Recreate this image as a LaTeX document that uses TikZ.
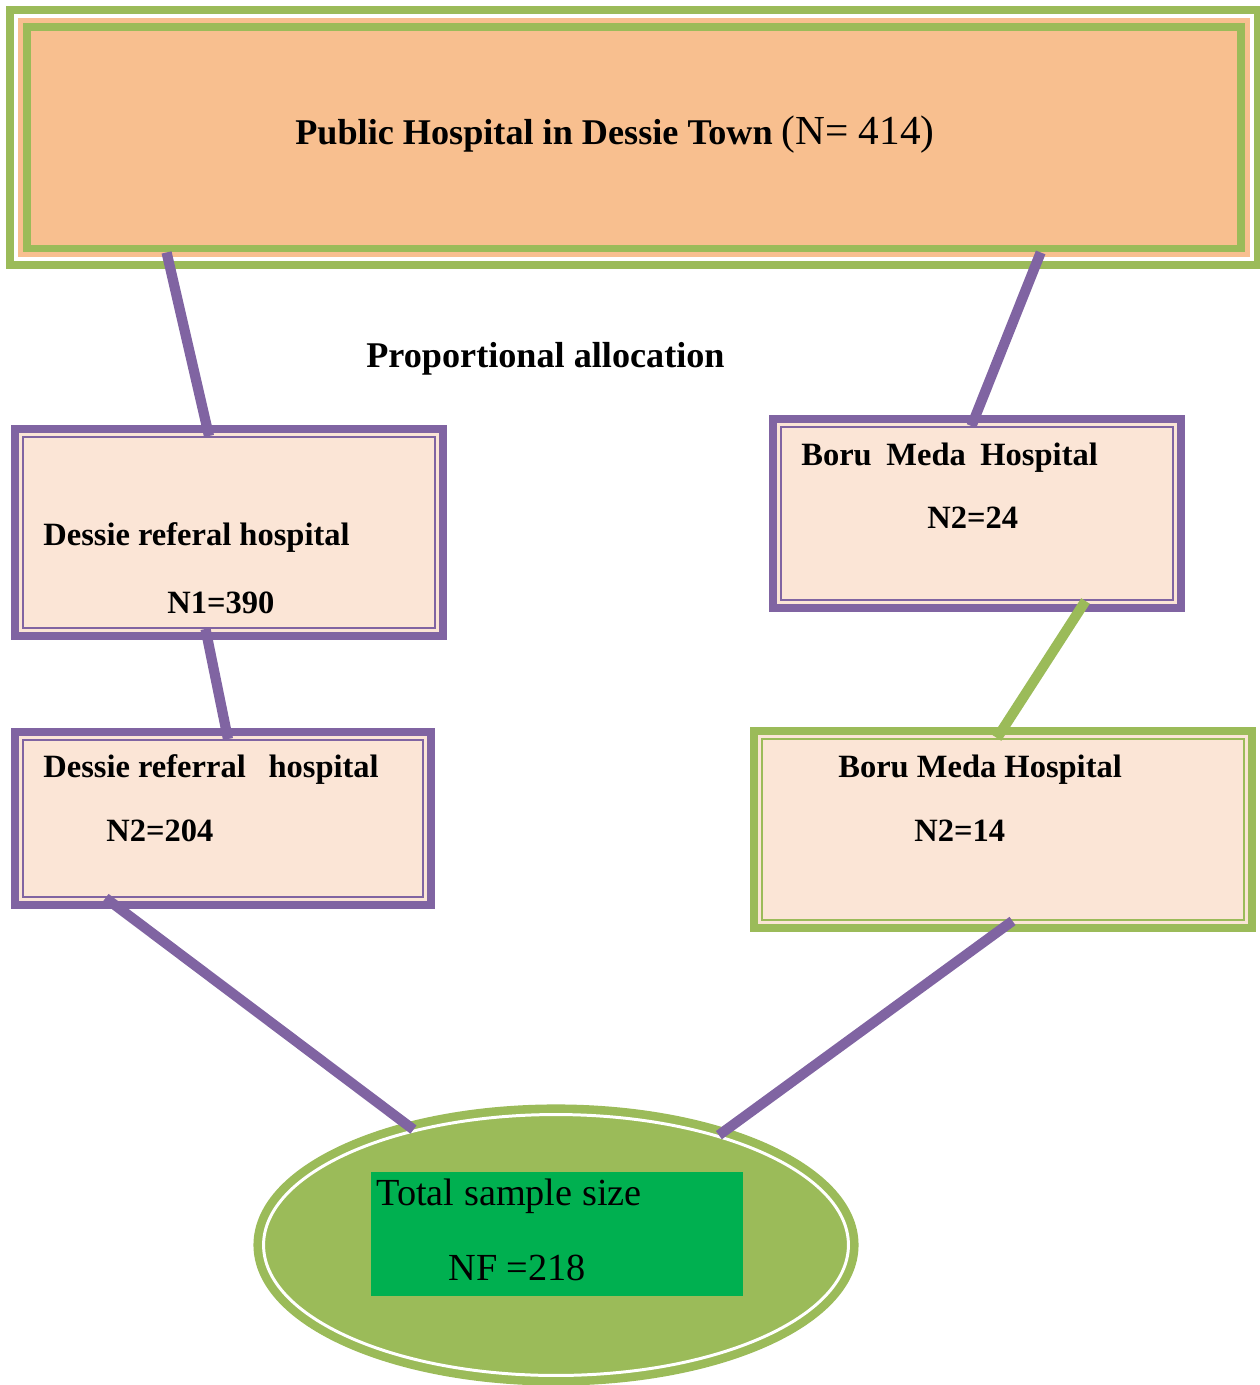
\documentclass[tikz,border=0pt]{standalone}
\usepackage{fontspec}
\setmainfont{Liberation Serif}
\usepackage{tikz}
\usetikzlibrary{shapes.geometric}
\definecolor{peach}{HTML}{F8BF8F}
\definecolor{paleorange}{HTML}{FBE5D6}
\definecolor{leafgreen}{HTML}{9BBB59}
\definecolor{lilac}{HTML}{8064A2}
\definecolor{brightgreen}{HTML}{00B050}

\begin{document}
\begin{tikzpicture}[x=0.02cm, y=-0.02cm]
\tikzstyle{topbox} = [rectangle, inner sep=0pt, fill=peach, draw=leafgreen, line width=4.5pt, preaction={draw=leafgreen, line width=23.8pt}, preaction={draw=white, line width=14.7pt}, preaction={draw=peach, line width=10.2pt}]
\tikzstyle{purplebox} = [rectangle, inner sep=0pt, fill=paleorange, draw=lilac, line width=0.85pt, preaction={draw=lilac, line width=13.3pt}, preaction={draw=paleorange, line width=4.25pt}]
\tikzstyle{greenbox} = [rectangle, inner sep=0pt, fill=paleorange, draw=leafgreen, line width=0.85pt, preaction={draw=leafgreen, line width=13.3pt}, preaction={draw=paleorange, line width=4.25pt}]
\tikzstyle{totalshape} = [ellipse, inner sep=0pt, fill=leafgreen, draw=white, line width=1.7pt, preaction={draw=leafgreen, line width=11.5pt}]
\tikzstyle{link} = [draw=lilac, line width=5.8pt]
\tikzstyle{greenlink} = [draw=leafgreen, line width=5.8pt]
\tikzstyle{lbl} = [anchor=base west, inner sep=0pt, font=\fontsize{18.5}{20}\selectfont\bfseries]
\tikzstyle{bigtxt} = [anchor=base west, inner sep=0pt, font=\fontsize{20.6}{24}\selectfont]
\useasboundingbox (0,0) rectangle (1260,1385);

\node (top) [topbox, minimum width=24.29cm, minimum height=4.43cm] at (633.75,137.75) {};
\node (dr1) [purplebox, minimum width=8.25cm, minimum height=3.83cm] at (229,532.5) {};
\node (bm1) [purplebox, minimum width=7.85cm, minimum height=3.47cm] at (977,513.5) {};
\node (dr2) [purplebox, minimum width=8.01cm, minimum height=3.15cm] at (223,818.5) {};
\node (bm2) [greenbox, minimum width=9.65cm, minimum height=3.63cm] at (1003,829.5) {};
\node (total) [totalshape, minimum width=11.7cm, minimum height=5.22cm] at (556,1245) {};
\node (sample) [rectangle, fill=brightgreen, minimum width=7.44cm, minimum height=2.48cm] at (557,1234) {};

\draw [link] ([xshift=-9.345cm]top.south) -- ([xshift=-0.4cm]dr1.north);
\draw [link] ([xshift=8.14cm]top.south) -- ([xshift=-0.11cm]bm1.north);
\draw [link] ([xshift=-0.47cm]dr1.south) -- ([xshift=0.1cm]dr2.north);
\draw [greenlink] ([xshift=2.17cm]bm1.south) -- ([xshift=-0.12cm]bm2.north);
\draw [link] ([xshift=-2.35cm]dr2.south) -- (total.141);
\draw [link] ([xshift=0.19cm]bm2.south) -- (total.34);

\node (toptxt) [bigtxt] at (295,145) {\bfseries Public Hospital in Dessie Town \mdseries\fontsize{23.5}{26}\selectfont(N= 414)};
\node (alloc) [bigtxt, font=\fontsize{20.6}{24}\selectfont\bfseries] at (366,367) {Proportional allocation};
\node (dr1name) [lbl] at (43,545) {Dessie referal hospital};
\node (dr1n) [lbl] at (167,613) {N1=390};
\node (bm1name) [lbl] at (801,465) {Boru\hspace{0.45em}Meda\hspace{0.45em}Hospital};
\node (bm1n) [lbl] at (927,528) {N2=24};
\node (dr2name) [lbl] at (43,777) {Dessie referral\hspace{0.7em}hospital};
\node (dr2n) [lbl] at (106,841) {N2=204};
\node (bm2name) [lbl] at (838,777) {Boru Meda Hospital};
\node (bm2n) [lbl] at (914,841) {N2=14};
\node (totalname) [bigtxt, font=\fontsize{21.8}{24}\selectfont] at (376,1205) {Total sample size};
\node (totaln) [bigtxt, font=\fontsize{21.8}{24}\selectfont] at (448,1280) {NF =218};
\end{tikzpicture}
\end{document}
